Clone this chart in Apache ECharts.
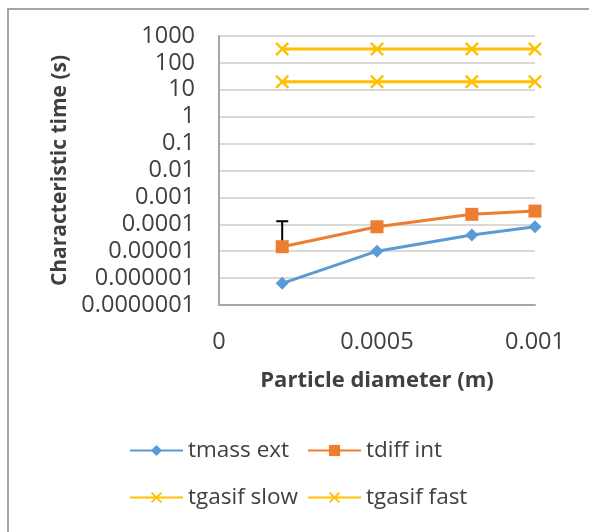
<!DOCTYPE html>
<html>
<head>
<meta charset="utf-8">
<script src="https://cdn.jsdelivr.net/npm/echarts@6/dist/echarts.min.js"></script>
<style>html,body{margin:0;padding:0;background:#fff}#c{width:589px;height:532px}</style>
</head>
<body>
<div id="c"></div>
<script>
// ---- data ----
const diameters = [0.0002, 0.0005, 0.0008, 0.001];
const tmassExt = [6.4e-7, 1.0e-5, 4.0e-5, 8.1e-5];
const tdiffInt = [1.47e-5, 8.1e-5, 2.35e-4, 3.1e-4];
const tgasifSlow = [330, 330, 330, 330];
const tgasifFast = [20, 20, 20, 20];
const tdiffErrUpper = [1.3e-4]; // upper end of error bar for first tdiff point
const yTickLabels = ['0.0000001','0.000001','0.00001','0.0001','0.001','0.01','0.1','1','10','100','1000'];
const seriesNames = ['tmass ext', 'tdiff int', 'tgasif slow', 'tgasif fast'];

const FONT = 'Open Sans';
const TXT = '#404040';
const xShape = 'path://M0,1.2L1.2,0L5,3.8L8.8,0L10,1.2L6.2,5L10,8.8L8.8,10L5,6.2L1.2,10L0,8.8L3.8,5Z';

const pair = arr => diameters.map((d, i) => [d, arr[i]]);

const chart = echarts.init(document.getElementById('c'), null, {renderer: 'canvas'});

function legendAt(name, left, top) {
  return {
    data: [name], left: left, top: top, itemWidth: 53, itemHeight: 14, itemGap: 0,
    textStyle: {fontFamily: FONT, fontSize: 22.5, color: TXT}, padding: 0
  };
}

chart.setOption({
  animation: false,
  backgroundColor: '#fff',
  graphic: [{
    type: 'rect', shape: {x: 8, y: 9, width: 800, height: 800},
    style: {fill: 'none', stroke: '#a6a6a6', lineWidth: 2}, silent: true
  }],
  legend: [
    legendAt(seriesNames[0], 129, 439),
    legendAt(seriesNames[1], 307, 439),
    legendAt(seriesNames[2], 129, 486),
    legendAt(seriesNames[3], 307, 486)
  ],
  grid: {left: 219, top: 36, right: 54, bottom: 227, containLabel: false},
  xAxis: {
    type: 'value', min: 0, max: 0.001, interval: 0.0005,
    name: 'Particle diameter (m)', nameLocation: 'middle', nameGap: 65,
    nameTextStyle: {fontFamily: FONT, fontSize: 22, fontWeight: 'bold', color: TXT},
    axisLine: {show: true, onZero: false, lineStyle: {color: '#a6a6a6', width: 2}},
    axisTick: {show: false},
    splitLine: {show: false},
    axisLabel: {fontFamily: FONT, fontSize: 23.5, color: TXT, margin: 25,
      formatter: v => v === 0 ? '0' : String(+v.toFixed(6))}
  },
  yAxis: {
    type: 'log', logBase: 10, min: 1e-7, max: 1000, interval: 1, splitNumber: 10,
    name: 'Characteristic time (s)', nameLocation: 'middle', nameGap: 148,
    nameTextStyle: {fontFamily: FONT, fontSize: 21, fontWeight: 'bold', color: TXT},
    axisLine: {show: true, lineStyle: {color: '#a6a6a6', width: 2}},
    axisTick: {show: false},
    splitLine: {show: true, lineStyle: {color: '#d9d9d9', width: 2}},
    axisLabel: {fontFamily: FONT, fontSize: 23.5, color: TXT, margin: 24,
      formatter: v => yTickLabels[Math.round(Math.log10(v)) + 7] || ''}
  },
  series: [
    {name: seriesNames[0], type: 'line', data: pair(tmassExt), symbol: 'diamond', symbolSize: 13,
      lineStyle: {color: '#5b9bd5', width: 3}, itemStyle: {color: '#5b9bd5'}, z: 3},
    {name: seriesNames[1], type: 'line', data: pair(tdiffInt), symbol: 'rect', symbolSize: 13,
      lineStyle: {color: '#ed7d31', width: 3}, itemStyle: {color: '#ed7d31'}, z: 4},
    {name: seriesNames[2], type: 'line', data: pair(tgasifSlow), symbol: xShape, symbolSize: 14,
      lineStyle: {color: '#ffc000', width: 3}, itemStyle: {color: '#ffc000'}, z: 3},
    {name: seriesNames[3], type: 'line', data: pair(tgasifFast), symbol: xShape, symbolSize: 14,
      lineStyle: {color: '#ffc000', width: 3}, itemStyle: {color: '#ffc000'}, z: 3},
    {type: 'custom', name: 'err', z: 2, silent: true,
      data: tdiffErrUpper.map((u, i) => [diameters[i], tdiffInt[i], u]),
      renderItem: (params, api) => {
        const lo = api.coord([api.value(0), api.value(1)]);
        const hi = api.coord([api.value(0), api.value(2)]);
        const s = {stroke: '#000', lineWidth: 2};
        return {type: 'group', children: [
          {type: 'line', shape: {x1: lo[0], y1: lo[1], x2: hi[0], y2: hi[1]}, style: s},
          {type: 'line', shape: {x1: hi[0] - 6, y1: hi[1], x2: hi[0] + 6, y2: hi[1]}, style: s}
        ]};
      }}
  ]
});
</script>
</body>
</html>
